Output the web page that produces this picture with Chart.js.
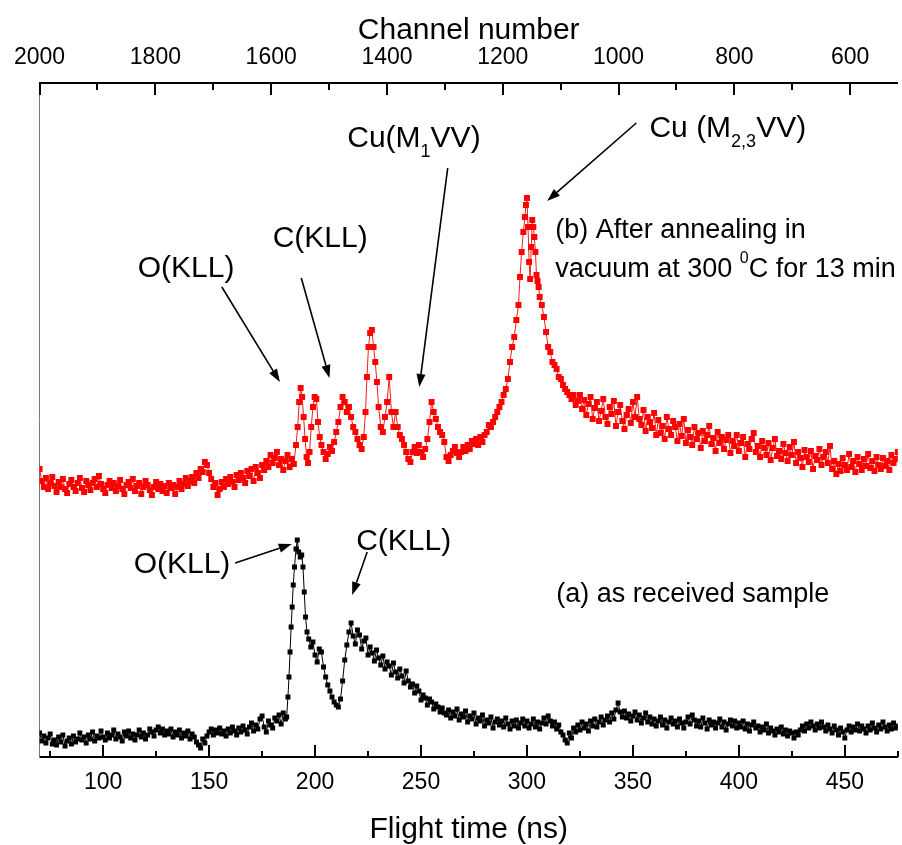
<!DOCTYPE html>
<html>
<head>
<meta charset="utf-8">
<script src="https://cdn.jsdelivr.net/npm/chart.js@4.4.1/dist/chart.umd.min.js"></script>
<style>
  html, body { margin: 0; padding: 0; background: #fff; overflow: hidden; }
</style>
</head>
<body>
<canvas id="auger-chart" width="902" height="845"></canvas>
<script>
// flight time (ns) vs intensity (a.u.)
const annealedPoints = [
  [70,288],[71,276],[72,270],[73,279],[74,268],[75,274],[76,280],[77,271],[78,265],[79,275],
  [80,270],[81,278],[82,268],[83,264],[84,273],[85,277],[86,270],[87,266],[88,274],[89,279],
  [90,269],[91,265],[92,276],[93,272],[94,267],[95,274],[96,278],[97,270],[98,281],[99,273],
  [100,268],[101,264],[102,272],[103,276],[104,269],[105,274],[106,266],[107,271],[108,277],[109,268],
  [110,263],[111,272],[112,275],[113,269],[114,278],[115,266],[116,271],[117,274],[118,263],[119,270],
  [120,276],[121,272],[122,267],[123,262],[124,270],[125,275],[126,268],[127,273],[128,266],[129,271],
  [130,264],[131,274],[132,269],[133,272],[134,263],[135,270],[136,276],[137,268],[138,273],[139,279],
  [140,271],[141,276],[142,280],[143,274],[144,284],[145,279],[146,288],[147,285],[148,295],[149,292],
  [150,284],[151,278],[152,270],[153,274],[154,262],[155,268],[156,275],[157,270],[158,278],[159,273],
  [160,280],[161,275],[162,270],[163,282],[164,277],[165,284],[166,279],[167,274],[168,286],[169,281],
  [170,288],[171,276],[172,290],[173,284],[174,279],[175,292],[176,287],[177,296],[178,290],[179,302],
  [180,294],[181,299],[182,305],[183,292],[184,298],[185,287],[186,296],[187,302],[188,290],[189,298],
  [190,293],[191,312],[191.8,330],[192.5,355],[193.2,369],[193.9,360],[194.6,340],[195.3,318],[196,300],[196.7,294],
  [197.4,305],[198.2,330],[199,350],[199.8,360],[200.6,358],[201.4,335],[202.2,320],[203,312],[204,305],[205,298],
  [206,303],[207,310],[208,306],[209,315],[210,325],[211,335],[212,350],[213,360],[214,355],[215,345],
  [216,350],[217,340],[218,330],[219,325],[220,318],[221,312],[222,308],[223,320],[223.8,345],[224.5,380],
  [225.2,410],[226,424],[226.8,427],[227.6,410],[228.4,395],[229.2,375],[230,350],[231,330],[232,325],[233,340],
  [234,355],[235,380],[236,345],[237,330],[238,345],[239,330],[240,322],[241,318],[242,312],[243,305],
  [244,298],[245,295],[246,305],[247,310],[248,304],[249,312],[250,305],[251,300],[252,308],[253,318],
  [254,335],[255,355],[256,345],[257,338],[258,330],[259,325],[260,322],[261,315],[262,300],[263,296],
  [264,302],[265,306],[266,310],[267,304],[268,300],[269,305],[270,310],[271,306],[272,312],[273,308],
  [274,316],[275,313],[276,318],[277,312],[278,320],[279,315],[280,322],[281,325],[282,332],[283,330],
  [284,335],[285,340],[286,345],[287,350],[288,355],[289,362],[290,368],[291,378],[292,395],[293,410],
  [294,420],[295,437],[296,452],[296.7,480],[297.5,505],[298.3,525],[299,540],[299.5,552],[300,559],[300.5,530],
  [301,495],[301.5,478],[302,510],[302.5,537],[303,530],[303.5,520],[304,505],[304.5,482],[305,476],[305.5,470],
  [306,460],[307,452],[308,440],[309,425],[310,410],[311,405],[312,395],[313,392],[314,388],[315,380],
  [316,378],[317,372],[318,368],[319,365],[320,362],[321,358],[322,362],[323,352],[324,356],[325,362],
  [326,348],[327,357],[328,342],[329,353],[330,360],[331,338],[332,349],[333,355],[334,336],[335,346],
  [336,358],[337,340],[338,333],[339,350],[340,343],[341,356],[342,331],[343,345],[344,352],[345,336],
  [346,328],[347,342],[348,348],[349,334],[350,355],[351,340],[352,360],[353,338],[354,332],[355,347],
  [356,326],[357,340],[358,335],[359,329],[360,344],[361,322],[362,337],[363,324],[364,331],[365,318],
  [366,340],[367,328],[368,322],[369,336],[370,330],[371,316],[372,333],[373,321],[374,338],[375,314],
  [376,327],[377,320],[378,312],[379,330],[380,318],[381,324],[382,309],[383,326],[384,316],[385,322],
  [386,331],[387,313],[388,319],[389,306],[390,325],[391,314],[392,320],[393,308],[394,317],[395,322],
  [396,304],[397,316],[398,311],[399,322],[400,306],[401,314],[402,320],[403,300],[404,313],[405,308],
  [406,318],[407,324],[408,305],[409,311],[410,300],[411,316],[412,309],[413,302],[414,314],[415,297],
  [416,309],[417,318],[418,301],[419,306],[420,298],[421,313],[422,304],[423,296],[424,310],[425,302],
  [426,315],[427,294],[428,305],[429,299],[430,290],[431,307],[432,300],[433,295],[434,306],[435,288],
  [436,301],[437,297],[438,308],[439,292],[440,300],[441,305],[442,294],[443,311],[444,288],[445,296],
  [446,283],[447,293],[448,286],[449,299],[450,292],[451,287],[452,303],[453,290],[454,296],[455,285],
  [456,300],[457,293],[458,287],[459,298],[460,291],[461,303],[462,289],[463,296],[464,286],[465,300],
  [466,292],[467,288],[468,299],[469,291],[470,296],[471,287],[472,302],[473,294],[474,298],[475,305]
];

const receivedPoints = [
  [70,24],[71,16],[72,21],[73,14],[74,19],[75,23],[76,13],[77,17],[78,12],[79,20],
  [80,15],[81,22],[82,11],[83,16],[84,19],[85,13],[86,21],[87,15],[88,18],[89,24],
  [90,17],[91,20],[92,14],[93,22],[94,18],[95,25],[96,16],[97,21],[98,19],[99,26],
  [100,20],[101,17],[102,24],[103,19],[104,22],[105,27],[106,18],[107,23],[108,20],[109,16],
  [110,25],[111,21],[112,26],[113,19],[114,23],[115,17],[116,22],[117,27],[118,20],[119,24],
  [120,18],[121,22],[122,28],[123,25],[124,21],[125,27],[126,30],[127,24],[128,28],[129,22],
  [130,26],[131,23],[132,28],[133,20],[134,25],[135,22],[136,27],[137,19],[138,24],[139,21],
  [140,26],[141,18],[142,23],[143,20],[144,15],[145,12],[146,9],[147,18],[148,14],[149,21],
  [150,25],[151,28],[152,22],[153,27],[154,24],[155,29],[156,23],[157,26],[158,21],[159,28],
  [160,24],[161,30],[162,26],[163,22],[164,29],[165,25],[166,31],[167,27],[168,23],[169,30],
  [170,34],[171,26],[172,32],[173,28],[174,38],[175,41],[176,30],[177,25],[178,36],[179,32],
  [180,29],[181,39],[182,36],[183,42],[184,33],[185,44],[186,38],[186.6,40],[187.2,60],[187.7,80],
  [188.2,105],[188.7,130],[189.2,150],[189.7,172],[190.3,190],[191,208],[191.6,217],[192.3,205],[193,200],[193.7,202],
  [194.3,190],[194.9,165],[195.5,140],[196.2,125],[197,118],[198,110],[199,115],[200,102],[201,95],[202,108],
  [203,105],[204,90],[205,80],[206,72],[207,66],[208,60],[209,55],[210,52],[211,50],[212,58],
  [213,76],[214,97],[215,112],[216,125],[217,134],[218,121],[219,113],[220,127],[221,122],[222,108],
  [223,116],[224,119],[225,102],[226,110],[227,104],[228,96],[229,107],[230,99],[231,92],[232,101],
  [233,88],[234,95],[235,91],[236,82],[237,94],[238,85],[239,79],[240,88],[241,81],[242,74],
  [243,86],[244,76],[245,70],[246,73],[247,64],[248,71],[249,66],[250,57],[251,62],[252,59],
  [253,52],[254,58],[255,55],[256,48],[257,53],[258,50],[259,45],[260,49],[261,44],[262,42],
  [263,47],[264,39],[265,45],[266,41],[267,48],[268,37],[269,43],[270,40],[271,46],[272,35],
  [273,41],[274,38],[275,44],[276,33],[277,39],[278,36],[279,42],[280,31],[281,37],[282,34],
  [283,40],[284,29],[285,35],[286,38],[287,32],[288,36],[289,30],[290,39],[291,33],[292,28],
  [293,36],[294,31],[295,37],[296,29],[297,34],[298,38],[299,31],[300,36],[301,29],[302,33],
  [303,38],[304,30],[305,35],[306,28],[307,34],[308,39],[309,33],[310,41],[311,36],[312,31],
  [313,35],[314,28],[315,32],[316,25],[317,22],[318,17],[319,14],[320,24],[321,19],[322,29],
  [323,25],[324,32],[325,27],[326,35],[327,29],[328,33],[329,26],[330,36],[331,31],[332,38],
  [333,30],[334,35],[335,40],[336,32],[337,37],[338,41],[339,35],[340,44],[341,38],[342,47],
  [343,54],[344,45],[345,40],[346,46],[347,39],[348,43],[349,36],[350,41],[351,45],[352,37],
  [353,42],[354,34],[355,39],[356,44],[357,35],[358,40],[359,33],[360,38],[361,31],[362,36],
  [363,40],[364,32],[365,37],[366,29],[367,35],[368,39],[369,33],[370,36],[371,30],[372,38],
  [373,34],[374,29],[375,35],[376,40],[377,33],[378,42],[379,37],[380,31],[381,36],[382,30],
  [383,39],[384,34],[385,28],[386,37],[387,32],[388,35],[389,29],[390,34],[391,38],[392,30],
  [393,35],[394,27],[395,33],[396,37],[397,31],[398,36],[399,29],[400,34],[401,30],[402,36],
  [403,28],[404,33],[405,26],[406,32],[407,35],[408,29],[409,31],[410,25],[411,30],[412,27],
  [413,33],[414,24],[415,29],[416,26],[417,22],[418,28],[419,25],[420,30],[421,23],[422,27],
  [423,21],[424,26],[425,24],[426,19],[427,25],[428,22],[429,27],[430,31],[431,26],[432,33],
  [433,29],[434,35],[435,31],[436,27],[437,33],[438,29],[439,35],[440,30],[441,26],[442,32],
  [443,28],[444,24],[445,31],[446,27],[447,22],[448,29],[449,25],[450,19],[451,27],[452,31],
  [453,25],[454,30],[455,27],[456,33],[457,26],[458,31],[459,28],[460,24],[461,31],[462,27],
  [463,34],[464,29],[465,25],[466,32],[467,28],[468,35],[469,30],[470,26],[471,32],[472,28],
  [473,34],[474,29],[475,31]
];

const timeTicks = [100, 150, 200, 250, 300, 350, 400, 450];
const timeMinorTicks = [75, 125, 175, 225, 275, 325, 375, 425, 475];
const channelTicks = [2000, 1800, 1600, 1400, 1200, 1000, 800, 600];
const channelMinorTicks = [1900, 1700, 1500, 1300, 1100, 900, 700];

// labels: [time, intensity, font size, [text, 0 normal | -1 subscript | 1 superscript]...]
const labels = [
  [116.3, 480, 30, [['O(KLL)', 0]]],
  [180, 510, 30, [['C(KLL)', 0]]],
  [215.2, 610, 30, [['Cu(M', 0], ['1', -1], ['VV)', 0]]],
  [357.8, 620, 30, [['Cu (M', 0], ['2,3', -1], ['VV)', 0]]],
  [313.3, 519, 27, [['(b) After annealing in', 0]]],
  [313.3, 480, 27, [['vacuum at 300 ', 0], ['0', 1], ['C for 13 min', 0]]],
  [313.8, 155, 27, [['(a) as received sample', 0]]],
  [114.4, 184, 30, [['O(KLL)', 0]]],
  [219.4, 207, 30, [['C(KLL)', 0]]]
];

// arrows: [from time, from intensity, to time, to intensity]
const arrows = [
  [156.0, 470, 183.4, 375],
  [193.5, 479, 206.8, 379],
  [262.6, 589, 249.2, 370],
  [351.6, 634, 309.5, 556],
  [162.3, 194, 189.0, 213],
  [224.6, 205, 217.5, 162]
];

const FONT = '"Liberation Sans", Arial, Helvetica, sans-serif';
Chart.defaults.font.family = FONT;
Chart.defaults.color = "#000";

const toXY = (pts) => pts.map(([t, v]) => ({ x: t, y: v }));

const annotate = {
  id: "annotate",
  afterDraw(chart) {
    const ctx = chart.ctx;
    const { x, y, x2 } = chart.scales;
    const bottom = x.top;
    const top = x2.bottom;
    ctx.save();

    // inward tick marks
    ctx.fillStyle = "#000";
    timeTicks.forEach((v) => ctx.fillRect(Math.round(x.getPixelForValue(v)) - 1, bottom - 12, 2, 12));
    timeMinorTicks.forEach((v) => ctx.fillRect(Math.round(x.getPixelForValue(v)) - 1, bottom - 6, 2, 6));
    channelTicks.forEach((v) => ctx.fillRect(Math.round(x2.getPixelForValue(v)) - 1, top, 2, 12));
    channelMinorTicks.forEach((v) => ctx.fillRect(Math.round(x2.getPixelForValue(v)) - 1, top, 2, 7));

    // arrows
    ctx.strokeStyle = "#000";
    ctx.lineWidth = 1.6;
    arrows.forEach(([t0, v0, t1, v1]) => {
      const ax = x.getPixelForValue(t0), ay = y.getPixelForValue(v0);
      const bx = x.getPixelForValue(t1), by = y.getPixelForValue(v1);
      const ang = Math.atan2(by - ay, bx - ax);
      const head = 13, half = 4.5;
      const hx = bx - head * Math.cos(ang), hy = by - head * Math.sin(ang);
      ctx.beginPath();
      ctx.moveTo(ax, ay);
      ctx.lineTo(hx, hy);
      ctx.stroke();
      ctx.beginPath();
      ctx.moveTo(bx, by);
      ctx.lineTo(hx + half * Math.sin(ang), hy - half * Math.cos(ang));
      ctx.lineTo(hx - half * Math.sin(ang), hy + half * Math.cos(ang));
      ctx.closePath();
      ctx.fill();
    });

    // text labels with sub/superscripts
    ctx.textAlign = "left";
    ctx.textBaseline = "alphabetic";
    labels.forEach(([t, v, size, parts]) => {
      let px = x.getPixelForValue(t);
      const py = y.getPixelForValue(v);
      parts.forEach(([text, kind]) => {
        const fs = kind === 0 ? size : Math.round(size * 0.6);
        const dy = kind === -1 ? size * 0.33 : kind === 1 ? -size * 0.52 : 0;
        ctx.font = fs + "px " + FONT;
        ctx.fillText(text, px, py + dy);
        px += ctx.measureText(text).width;
      });
    });
    ctx.restore();
  }
};

new Chart(document.getElementById("auger-chart"), {
  type: "line",
  data: {
    datasets: [
      {
        label: "(b) After annealing",
        data: toXY(annealedPoints),
        borderColor: "#ff1a1a",
        backgroundColor: "#ff0000",
        borderWidth: 1,
        pointStyle: "rect",
        pointRadius: 4.2,
        pointBorderWidth: 0,
        tension: 0,
        xAxisID: "x",
        yAxisID: "y",
      },
      {
        label: "(a) as received",
        data: toXY(receivedPoints),
        borderColor: "#000",
        backgroundColor: "#000",
        borderWidth: 1,
        pointStyle: "rect",
        pointRadius: 3.5,
        pointBorderWidth: 0,
        tension: 0,
        xAxisID: "x",
        yAxisID: "y",
      },
    ],
  },
  options: {
    responsive: false,
    animation: false,
    layout: { padding: 0 },
    plugins: {
      legend: { display: false },
      tooltip: { enabled: false },
    },
    scales: {
      x: {
        type: "linear",
        position: "bottom",
        min: 70,
        max: 475,
        afterBuildTicks: (scale) => { scale.ticks = timeTicks.map((v) => ({ value: v })); },
        afterFit: (scale) => { scale.height = 88; },
        grid: { display: false, drawTicks: false },
        border: { display: true, color: "#000", width: 2 },
        ticks: {
          autoSkip: false,
          maxRotation: 0,
          padding: 14,
          font: { size: 23, lineHeight: 1 },
          callback: (v) => String(v),
        },
        title: {
          display: true,
          text: "Flight time (ns)",
          font: { size: 30, lineHeight: 1 },
          padding: 0,
        },
      },
      x2: {
        type: "linear",
        position: "top",
        reverse: true,
        min: 517.7,
        max: 2000,
        afterBuildTicks: (scale) => { scale.ticks = channelTicks.map((v) => ({ value: v })); },
        afterFit: (scale) => { scale.height = 83; },
        grid: { display: false, drawTicks: false },
        border: { display: true, color: "#000", width: 2 },
        ticks: {
          autoSkip: false,
          maxRotation: 0,
          padding: 14,
          font: { size: 23, lineHeight: 1 },
          callback: (v) => String(v),
        },
        title: {
          display: true,
          text: "Channel number",
          font: { size: 30, lineHeight: 1 },
          padding: { top: 16, bottom: 0 },
        },
      },
      y: {
        type: "linear",
        min: 0,
        max: 674,
        afterFit: (scale) => { scale.width = 38; },
        grid: { display: false, drawTicks: false },
        border: { display: true, color: "#777", width: 1 },
        ticks: { display: false },
      },
    },
  },
  plugins: [annotate],
});
</script>
</body>
</html>
